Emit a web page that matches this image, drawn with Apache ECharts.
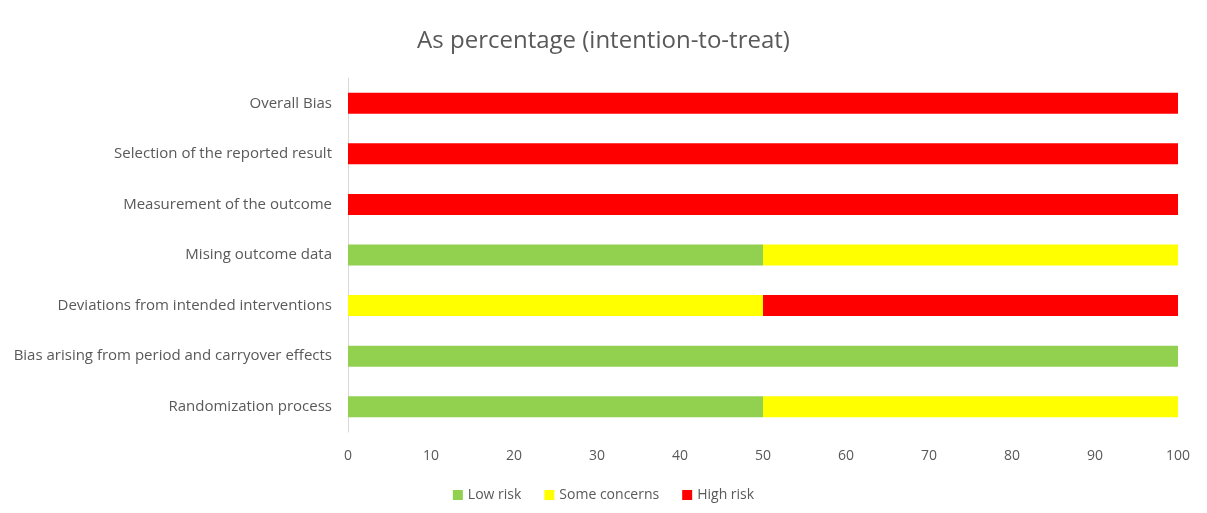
<!DOCTYPE html>
<html>
<head>
<meta charset="utf-8">
<script src="https://cdn.jsdelivr.net/npm/echarts@6/dist/echarts.min.js"></script>
<style>
  html, body { margin: 0; padding: 0; background: #fff; }
  #chart { width: 1207px; height: 513px; }
</style>
</head>
<body>
<div id="chart"></div>
<script>
// categories, bottom to top
const domains = [
  'Randomization process',
  'Bias arising from period and carryover effects',
  'Deviations from intended interventions',
  'Mising outcome data',
  'Measurement of the outcome',
  'Selection of the reported result',
  'Overall Bias'
]
const lowRisk = [50, 100, 0, 50, 0, 0, 0]
const someConcerns = [50, 0, 50, 50, 0, 0, 0]
const highRisk = [0, 0, 50, 0, 100, 100, 100]

const textColor = '#595959'
const font = 'Open Sans'

const chart = echarts.init(document.getElementById('chart'))

const barSeries = (name, data, color) => ({
  name: name,
  type: 'bar',
  stack: 'total',
  barWidth: 21,
  itemStyle: { color: color },
  data: data
})

chart.setOption({
  animation: false,
  title: {
    text: 'As percentage (intention-to-treat)',
    left: 'center',
    top: 24,
    textStyle: { color: textColor, fontFamily: font, fontSize: 24, fontWeight: 'normal' }
  },
  legend: {
    bottom: 6,
    left: 'center',
    itemWidth: 10,
    itemHeight: 10,
    itemGap: 23,
    icon: 'rect',
    textStyle: { color: textColor, fontFamily: font, fontSize: 14 },
    data: ['Low risk', 'Some concerns', 'High risk']
  },
  grid: {
    left: 348,
    right: 29,
    top: 78,
    bottom: 81
  },
  xAxis: {
    type: 'value',
    min: 0,
    max: 100,
    interval: 10,
    axisLine: { show: false },
    axisTick: { show: false },
    splitLine: { show: false },
    axisLabel: { color: textColor, fontFamily: font, fontSize: 14, margin: 17 }
  },
  yAxis: {
    type: 'category',
    data: domains,
    axisLine: { show: true, lineStyle: { color: '#d9d9d9' } },
    axisTick: { show: false },
    axisLabel: { color: textColor, fontFamily: font, fontSize: 15, margin: 16 }
  },
  series: [
    barSeries('Low risk', lowRisk, '#92D050'),
    barSeries('Some concerns', someConcerns, '#FFFF00'),
    barSeries('High risk', highRisk, '#FF0000')
  ]
})
</script>
</body>
</html>
